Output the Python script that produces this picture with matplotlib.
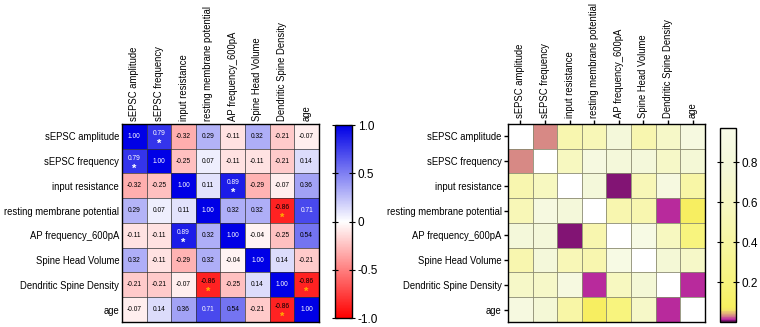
import numpy as np
import matplotlib
matplotlib.use("Agg")
import matplotlib.pyplot as plt
from matplotlib.colors import LinearSegmentedColormap

plt.rcParams['font.family'] = ['Liberation Sans', 'DejaVu Sans']

labels = ["sEPSC amplitude", "sEPSC frequency", "input resistance",
          "resting membrane potential", "AP frequency_600pA",
          "Spine Head Volume", "Dendritic Spine Density", "age"]

# correlation coefficients (left panel)
r = np.array([
    [1.00, 0.79, -0.32, 0.29, -0.11, 0.32, -0.21, -0.07],
    [0.79, 1.00, -0.25, 0.07, -0.11, -0.11, -0.21, 0.14],
    [-0.32, -0.25, 1.00, 0.11, 0.89, -0.29, -0.07, 0.36],
    [0.29, 0.07, 0.11, 1.00, 0.32, 0.32, -0.86, 0.71],
    [-0.11, -0.11, 0.89, 0.32, 1.00, -0.04, -0.25, 0.54],
    [0.32, -0.11, -0.29, 0.32, -0.04, 1.00, 0.14, -0.21],
    [-0.21, -0.21, -0.07, -0.86, -0.25, 0.14, 1.00, -0.86],
    [-0.07, 0.14, 0.36, 0.71, 0.54, -0.21, -0.86, 1.00],
])

# p values (right panel), diagonal left blank
nan = np.nan
p = np.array([
    [nan, 0.034, 0.48, 0.53, 0.81, 0.48, 0.65, 0.88],
    [0.034, nan, 0.59, 0.88, 0.81, 0.81, 0.65, 0.76],
    [0.48, 0.59, nan, 0.81, 0.007, 0.53, 0.88, 0.43],
    [0.53, 0.88, 0.81, nan, 0.48, 0.48, 0.013, 0.074],
    [0.81, 0.81, 0.007, 0.48, nan, 0.93, 0.59, 0.21],
    [0.48, 0.81, 0.53, 0.48, 0.93, nan, 0.76, 0.65],
    [0.65, 0.65, 0.88, 0.013, 0.59, 0.76, nan, 0.013],
    [0.88, 0.76, 0.43, 0.074, 0.21, 0.65, 0.013, nan],
])

n = len(labels)
fs = 6.85

fig = plt.figure(figsize=(7.6, 3.27), dpi=100)

# ---- left: correlation ----
cmap_r = LinearSegmentedColormap.from_list("rwb", ["#ff0000", "#ffffff", "#0000e6"])
ax1 = fig.add_axes([0.1605, 0.0153, 0.2592, 0.6055])
im1 = ax1.imshow(r, cmap=cmap_r, vmin=-1, vmax=1, aspect='auto')
for i in range(n):
    for j in range(n):
        v = r[i, j]
        col = 'white' if v >= 0.7 else 'black'
        sig = abs(v) >= 0.75 and i != j
        yy = i - 0.12 if sig else i
        ax1.text(j, yy, f"{v:.2f}", ha='center', va='center', fontsize=4.8, color=col)
        if sig:
            scol = 'white' if v > 0 else '#ffb000'
            ax1.text(j, i + 0.3, "*", ha='center', va='center', fontsize=8, color=scol,
                     fontweight='bold')
ax1.set_xticks(np.arange(n))
ax1.set_yticks(np.arange(n))
ax1.set_xticklabels(labels, rotation=90, fontsize=fs)
ax1.set_yticklabels(labels, fontsize=fs)
ax1.xaxis.tick_top()
ax1.tick_params(length=0, pad=2)
ax1.set_xticks(np.arange(n + 1) - 0.5, minor=True)
ax1.set_yticks(np.arange(n + 1) - 0.5, minor=True)
ax1.grid(which='minor', color='#333333', linewidth=0.5)
ax1.tick_params(which='minor', length=0)
for s in ax1.spines.values():
    s.set_linewidth(1.0)

cax1 = fig.add_axes([0.4408, 0.027, 0.0224, 0.59])
cb1 = fig.colorbar(im1, cax=cax1)
cb1.set_ticks([-1, -0.5, 0, 0.5, 1])
cb1.set_ticklabels(["-1.0", "-0.5", "0", "0.5", "1.0"])
cb1.ax.tick_params(direction='inout', left=True, right=True, length=4,
                   width=0.8, labelsize=8.5, pad=2)
cb1.outline.set_linewidth(1.0)

# ---- right: p values ----
cmap_p = LinearSegmentedColormap.from_list("pv", [
    (0.0, "#5e1850"), (0.008, "#a8109a"), (0.014, "#c23a9e"),
    (0.035, "#dc9a80"), (0.06, "#f4e468"), (0.077, "#f8f060"),
    (0.2, "#f8f47c"), (0.4, "#f8f6a0"), (0.6, "#f8f8c0"),
    (0.8, "#f4f8d8"), (1.0, "#f8fbe8")])
ax2 = fig.add_axes([0.6684, 0.0153, 0.2592, 0.6055])
ax2.set_facecolor('white')
im2 = ax2.imshow(p, cmap=cmap_p, vmin=0.0, vmax=0.97, aspect='auto')
ax2.set_xticks(np.arange(n))
ax2.set_yticks(np.arange(n))
ax2.set_xticklabels(labels, rotation=90, fontsize=fs)
ax2.set_yticklabels(labels, fontsize=fs)
ax2.xaxis.tick_top()
ax2.tick_params(length=3, width=1.0, pad=1.5)
ax2.set_xticks(np.arange(n + 1) - 0.5, minor=True)
ax2.set_yticks(np.arange(n + 1) - 0.5, minor=True)
ax2.grid(which='minor', color='#8a8a70', linewidth=0.6)
ax2.tick_params(which='minor', length=0)
for s in ax2.spines.values():
    s.set_linewidth(1.0)

cax2 = fig.add_axes([0.948, 0.0153, 0.021, 0.593])
cb2 = fig.colorbar(im2, cax=cax2)
cb2.set_ticks([0.2, 0.4, 0.6, 0.8])
cb2.ax.tick_params(direction='inout', left=True, right=True, length=4,
                   width=0.8, labelsize=8.5, pad=2)
cb2.outline.set_linewidth(1.0)

fig.savefig("out.png", dpi=100)
